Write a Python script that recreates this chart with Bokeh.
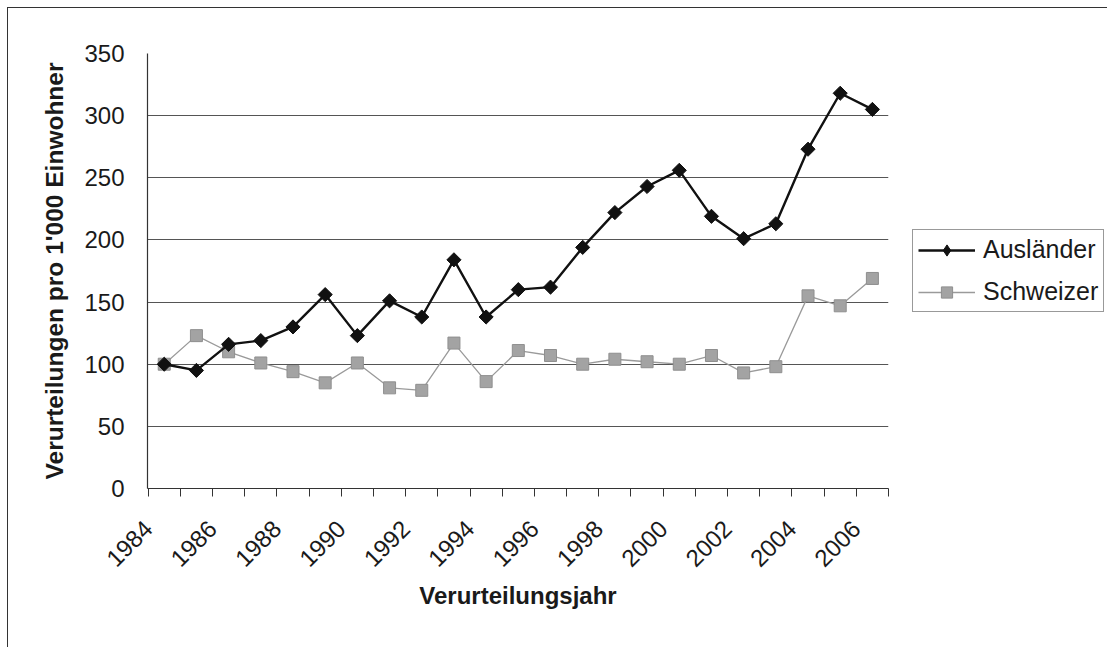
import numpy as np
from bokeh.plotting import figure
from bokeh.models import Range1d, FixedTicker, Legend, LegendItem, Title
from bokeh.embed import file_html
from bokeh.resources import INLINE

years = list(range(1984, 2007))
auslaender = [100, 95, 116, 119, 130, 156, 123, 151, 138, 184, 138, 160, 162,
              194, 222, 243, 256, 219, 201, 213, 273, 318, 305]
schweizer = [100, 123, 110, 101, 94, 85, 101, 81, 79, 117, 86, 111, 107,
             100, 104, 102, 100, 107, 93, 98, 155, 147, 169]
y_ticks = [0, 50, 100, 150, 200, 250, 300, 350]
label_years = years[::2]

FONT = "Liberation Sans"
DARK = "#333333"
FS = "24px"

p = figure(frame_width=741, frame_height=435,
           min_border_left=139, min_border_right=218,
           min_border_top=45, min_border_bottom=159,
           x_range=Range1d(years[0] - 0.52, years[-1] + 0.5),
           y_range=Range1d(0, 350),
           output_backend="svg", toolbar_location=None)
p.styles = {"border-left": "1px solid #333", "border-top": "1px solid #333",
            "margin-left": "7px", "margin-top": "7px"}
p.outline_line_color = None
p.background_fill_color = "white"
p.border_fill_color = "white"
# a range that lies far off-screen, used only for a legend-only glyph
p.extra_y_ranges = {"legend_only": Range1d(10000, 20000)}

# x axis: rotated labels end just left of the year centre, ticks between categories
shift = 0.5
lab_pos = [y - shift for y in label_years]
p.xaxis.ticker = FixedTicker(ticks=lab_pos,
                             minor_ticks=[y - 0.5 for y in years] + [years[-1] + 0.5])
p.xaxis.major_label_overrides = {pos: str(y) for pos, y in zip(lab_pos, label_years)}
p.xaxis.major_tick_out = 0
p.xaxis.major_tick_in = 0
p.xaxis.minor_tick_out = 8
p.xaxis.minor_tick_in = 0
p.xaxis.minor_tick_line_color = DARK
p.xaxis.major_label_orientation = np.pi / 4
p.xaxis.major_label_standoff = 28
p.xaxis.axis_label = "Verurteilungsjahr"
p.xaxis.axis_label_standoff = 5

p.yaxis.ticker = FixedTicker(ticks=y_ticks)
p.yaxis.major_tick_out = 8
p.yaxis.major_tick_in = 0
p.yaxis.minor_tick_line_color = None
p.yaxis.major_label_standoff = 15

for ax in (p.xaxis, p.yaxis):
    ax.axis_line_color = DARK
    ax.axis_line_width = 1.2
    ax.major_tick_line_color = DARK if ax is p.yaxis else None
    ax.major_label_text_font = FONT
    ax.major_label_text_font_size = FS
    ax.major_label_text_color = "#1a1a1a"
    ax.axis_label_text_font = FONT
    ax.axis_label_text_font_size = FS
    ax.axis_label_text_font_style = "bold"
    ax.axis_label_text_color = "#1a1a1a"

ytitle = Title(text="Verurteilungen pro 1'000 Einwohner", align="center",
               standoff=27, text_font=FONT, text_font_size="24.5px",
               text_font_style="bold", text_color="#1a1a1a")
p.add_layout(ytitle, "left")

p.xgrid.grid_line_color = None
p.ygrid.ticker = FixedTicker(ticks=y_ticks)
p.ygrid.grid_line_color = "#555555"
p.ygrid.grid_line_width = 1.2

# Schweizer
l2 = p.line(years, schweizer, line_color="#9a9a9a", line_width=1.3)
m2 = p.scatter(years, schweizer, marker="square", size=12,
               fill_color="#a3a3a3", line_color="#8f8f8f", line_width=1)
# Ausländer
l1 = p.line(years, auslaender, line_color="#111111", line_width=2.4)
m1 = p.scatter(years, auslaender, marker="square", size=10, angle=np.pi / 4,
               fill_color="#111111", line_color="#111111")
# legend glyph (legend markers ignore angle, so use a diamond drawn off-screen)
m1_leg = p.scatter(years, auslaender, y_range_name="legend_only", marker="diamond",
                   size=14, fill_color="#111111", line_color="#111111")

legend = Legend(items=[LegendItem(label="Ausländer", renderers=[l1, m1_leg]),
                       LegendItem(label="Schweizer", renderers=[l2, m2])],
                location=(24, 176))
legend.label_text_font = FONT
legend.label_text_font_size = "25px"
legend.label_text_color = "#1a1a1a"
legend.glyph_width = 57
legend.glyph_height = 28
legend.label_height = 28
legend.label_standoff = 8
legend.spacing = 13
legend.padding = 5
legend.margin = 0
legend.border_line_color = DARK
legend.border_line_width = 1.3
legend.background_fill_color = "white"
legend.background_fill_alpha = 1
p.add_layout(legend, "right")

open("out.html", "w").write(file_html(p, INLINE))
